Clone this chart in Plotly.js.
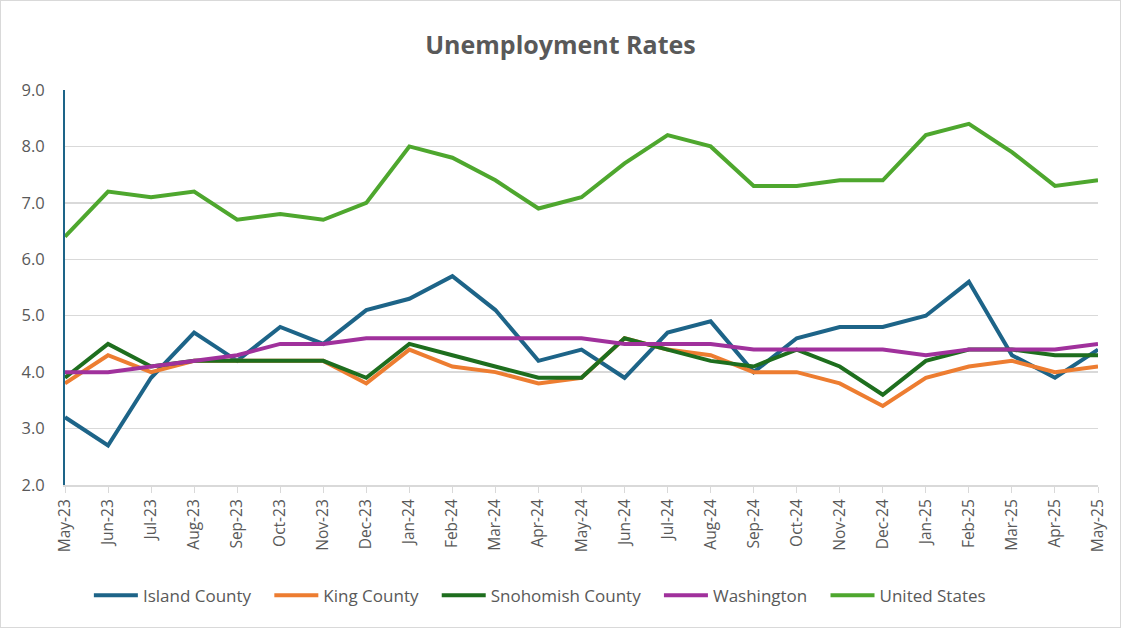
<!DOCTYPE html>
<html><head><meta charset="utf-8">
<script src="https://cdn.plot.ly/plotly-3.0.1.min.js"></script>
<style>html,body{margin:0;padding:0;background:#fff}#chart{width:1119px;height:626px;border:1px solid #D9D9D9}</style>
</head><body><div id="chart"></div>
<script>
const months = ["May-23","Jun-23","Jul-23","Aug-23","Sep-23","Oct-23","Nov-23","Dec-23","Jan-24","Feb-24","Mar-24","Apr-24","May-24","Jun-24","Jul-24","Aug-24","Sep-24","Oct-24","Nov-24","Dec-24","Jan-25","Feb-25","Mar-25","Apr-25","May-25"];
const island = [3.2,2.7,3.9,4.7,4.2,4.8,4.5,5.1,5.3,5.7,5.1,4.2,4.4,3.9,4.7,4.9,4.0,4.6,4.8,4.8,5.0,5.6,4.3,3.9,4.4];
const king = [3.8,4.3,4.0,4.2,4.2,4.2,4.2,3.8,4.4,4.1,4.0,3.8,3.9,4.6,4.4,4.3,4.0,4.0,3.8,3.4,3.9,4.1,4.2,4.0,4.1];
const snohomish = [3.9,4.5,4.1,4.2,4.2,4.2,4.2,3.9,4.5,4.3,4.1,3.9,3.9,4.6,4.4,4.2,4.1,4.4,4.1,3.6,4.2,4.4,4.4,4.3,4.3];
const washington = [4.0,4.0,4.1,4.2,4.3,4.5,4.5,4.6,4.6,4.6,4.6,4.6,4.6,4.5,4.5,4.5,4.4,4.4,4.4,4.4,4.3,4.4,4.4,4.4,4.5];
const us = [6.4,7.2,7.1,7.2,6.7,6.8,6.7,7.0,8.0,7.8,7.4,6.9,7.1,7.7,8.2,8.0,7.3,7.3,7.4,7.4,8.2,8.4,7.9,7.3,7.4];
const seriesNames = ["Island County","King County","Snohomish County","Washington","United States"];
const seriesData = [island, king, snohomish, washington, us];
const colors = ["#1D6488","#ED7D31","#1E6E1E","#A0319C","#4EA72E"];
const pad = "\u00a0\u00a0\u00a0";
const traces = seriesData.map((d,i)=>({x:months,y:d,name:seriesNames[i]+pad,type:"scatter",mode:"lines",line:{color:colors[i],width:4}}));
const font = {family:"Open Sans, Liberation Sans, sans-serif",color:"#595959"};
const layout = {
  width:1119,height:626,
  margin:{l:64,r:22,t:89,b:142},
  paper_bgcolor:"#fff",plot_bgcolor:"#fff",
  font:font,
  title:{text:"<b>Unemployment Rates</b>",x:0.5,xanchor:"center",y:0.93,yanchor:"middle",font:{family:font.family,size:25,color:"#595959"}},
  xaxis:{type:"category",tickangle:-90,tickfont:{size:15.5,color:"#595959"},showgrid:false,showline:true,linecolor:"#D9D9D9",linewidth:2,ticks:"outside",ticklen:6,tickcolor:"#D9D9D9",range:[0,24],fixedrange:true},
  yaxis:{range:[2,9],dtick:1,tickformat:".1f",tickfont:{size:16.5,color:"#595959"},gridcolor:"#D9D9D9",gridwidth:1.5,showline:true,linecolor:"#1D6488",linewidth:2,zeroline:false,ticks:"",ticklen:0,ticklabelstandoff:15},
  showlegend:true,
  legend:{orientation:"h",x:0.466,xanchor:"center",y:-0.28,yanchor:"middle",font:{size:17,color:"#595959"},itemwidth:44},
};
Plotly.newPlot("chart",traces,layout,{displayModeBar:false,staticPlot:true});
</script></body></html>
